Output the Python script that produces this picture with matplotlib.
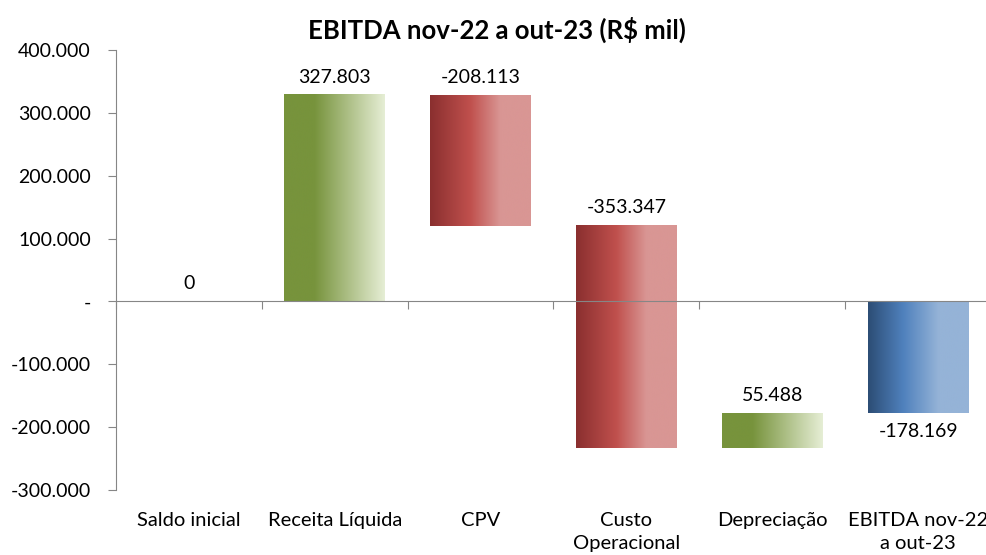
import numpy as np
import matplotlib.pyplot as plt
from matplotlib.colors import LinearSegmentedColormap
from matplotlib.ticker import FuncFormatter, FixedLocator, MultipleLocator

plt.rcParams['font.family'] = ['Lato', 'DejaVu Sans']

categorias = ['Saldo inicial', 'Receita Líquida', 'CPV', 'Custo\nOperacional',
              'Depreciação', 'EBITDA nov-22\na out-23']
variacoes = [0, 327803, -208113, -353347, 55488]
ebitda = -178169

# base e altura de cada barra do waterfall
bases = [0]
alturas = [0]
acum = 0
for v in variacoes[1:]:
    bases.append(acum)
    alturas.append(v)
    acum += v
bases.append(0)
alturas.append(ebitda)
valores = variacoes + [ebitda]

verde = LinearSegmentedColormap.from_list('verde', [(0, '#77933C'), (0.3, '#77933C'), (1, '#E6EED5')])
vermelho = LinearSegmentedColormap.from_list('vermelho', [(0, '#8A2F2F'), (0.4, '#C0504D'), (0.7, '#D99694'), (1, '#D99694')])
azul = LinearSegmentedColormap.from_list('azul', [(0, '#2C4D75'), (0.35, '#4F81BD'), (0.7, '#95B3D7'), (1, '#95B3D7')])
cores = [verde, verde, vermelho, vermelho, verde, azul]

fig = plt.figure(figsize=(9.87, 5.55), dpi=100)
ax = fig.add_axes([116 / 987, 1 - 490 / 555, (991 - 116) / 987, 440 / 555])

x = np.arange(len(categorias))
barras = ax.bar(x, alturas, bottom=bases, width=0.69, color='none')
grad = np.linspace(0, 1, 256).reshape(1, -1)
for i, b in enumerate(barras):
    if alturas[i] == 0:
        continue
    x0, y0 = b.get_x(), b.get_y()
    w, h = b.get_width(), b.get_height()
    ax.imshow(grad, cmap=cores[i], aspect='auto', extent=[x0, x0 + w, min(y0, y0 + h), max(y0, y0 + h)],
              zorder=2, interpolation='bicubic')

def fmt(v):
    return f'{v:,.0f}'.replace(',', '.')

for i in range(len(categorias)):
    topo = max(bases[i], bases[i] + alturas[i])
    fundo = min(bases[i], bases[i] + alturas[i])
    if i == len(categorias) - 1:
        ax.annotate(fmt(valores[i]), (x[i], fundo), xytext=(0, -7), textcoords='offset points',
                    ha='center', va='top', fontsize=14)
    else:
        ax.annotate(fmt(valores[i]), (x[i], topo), xytext=(0, 7), textcoords='offset points',
                    ha='center', va='bottom', fontsize=14)

ax.set_xlim(-0.5, 5.5)
ax.set_ylim(-300000, 400000)
ax.yaxis.set_major_locator(MultipleLocator(100000))
ax.yaxis.set_major_formatter(FuncFormatter(lambda v, p: '-' if v == 0 else fmt(v)))
ax.tick_params(axis='y', labelsize=14, length=6, color='#868686', pad=12)

ax.spines['bottom'].set_position(('data', 0))
ax.spines['top'].set_visible(False)
ax.spines['right'].set_visible(False)
for s in ['left', 'bottom']:
    ax.spines[s].set_color('#868686')
ax.xaxis.set_major_locator(FixedLocator(np.arange(-0.5, 6, 1)))
ax.tick_params(axis='x', length=6, color='#868686', labelbottom=False)

for i, c in enumerate(categorias):
    ax.text(x[i], -0.05, c, transform=ax.get_xaxis_transform(), ha='center', va='top',
            fontsize=14.5, linespacing=1.45)

fig.text(0.503, 1 - 30 / 555, 'EBITDA nov-22 a out-23 (R$ mil)', ha='center', va='center',
         fontsize=18.5, fontweight='bold')

fig.savefig('out.png', dpi=100)
